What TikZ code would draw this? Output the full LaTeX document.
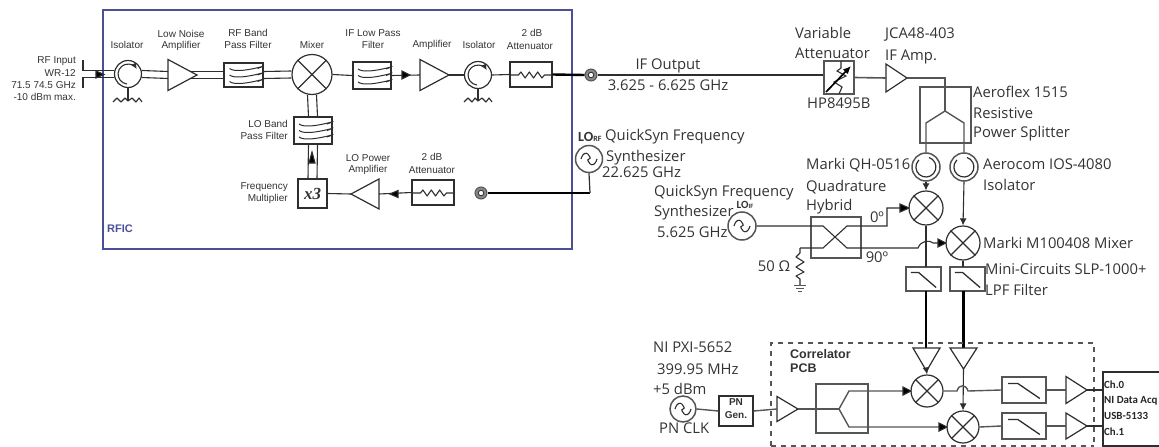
\documentclass[tikz,border=0pt]{standalone}
\usepackage{fontspec}
\setmainfont{Open Sans}
\newfontfamily\arialf{Liberation Sans}
\newfontfamily\carl{Carlito}
\newfontfamily\serif{Liberation Serif}
\usetikzlibrary{arrows.meta}
\definecolor{ln}{HTML}{2E2E2E}
\definecolor{gl}{HTML}{555555}
\definecolor{tx}{HTML}{333333}
\definecolor{rfic}{HTML}{4A4F98}
\tikzset{
  ln/.style={draw=ln,line width=1.1pt},
  gln/.style={draw=gl,line width=1.4pt},
  heavy/.style={draw=black,line width=2.4pt},
  arr/.style={ln,-{Latex[length=7pt,width=7pt]}},
  boxn/.style={draw=ln,line width=1.2pt,rectangle,inner sep=0pt},
  gboxn/.style={draw=gl,line width=1.6pt,rectangle,inner sep=0pt},
  circn/.style={draw=ln,line width=1.2pt,circle,inner sep=0pt},
  small/.style={font=\arialf\fontsize{10}{12}\selectfont,text=tx,inner sep=0pt},
  lab/.style={font=\fontsize{14.8}{16}\selectfont,text=tx,inner sep=0pt,anchor=west},
  bb/.style={font=\arialf\bfseries\fontsize{10}{12}\selectfont,text=tx,inner sep=0pt},
  cb/.style={font=\carl\bfseries\fontsize{10.9}{13}\selectfont,text=black!85,inner sep=0pt,anchor=west},
}
\newcommand\dgBox[6]{%
  \pgfmathsetmacro\dgcx{(#2+#4)/2}\pgfmathsetmacro\dgcy{(#3+#5)/2}%
  \pgfmathsetmacro\dgw{#4-#2}\pgfmathsetmacro\dgh{#5-#3}%
  \node[#6,minimum width=\dgw pt,minimum height=\dgh pt] (#1) at (\dgcx,\dgcy) {};}
\newcommand\dgMix[4]{\node[circn,minimum size=#4pt] (#1) at (#2,#3) {};
  \draw[ln] (#1.45)--(#1.225) (#1.135)--(#1.315);}
\newcommand\dgTriH[5]{\coordinate (#1-in) at (#2,#4); \coordinate (#1-out) at (#3,#4);
  \draw[ln,line width=1.2pt] (#2,#4-#5)--(#3,#4)--(#2,#4+#5)--cycle;}
\newcommand\dgTriV[5]{\coordinate (#1-in) at (#2,#3); \coordinate (#1-out) at (#2,#4);
  \draw[ln,line width=1.2pt] (#2-#5,#3)--(#2,#4)--(#2+#5,#3)--cycle;}
\newcommand\dgZig[3]{\draw[ln,line join=round] (#1,#2) -- ++(#3*.2,0) -- ++(#3*.06,-3) -- ++(#3*.1,6) -- ++(#3*.1,-6) -- ++(#3*.1,6) -- ++(#3*.1,-6) -- ++(#3*.1,6) -- ++(#3*.06,-3) -- ++(#3*.18,0);}
\newcommand\dgBpf[2]{%
  \foreach \dd in {-6.5,0,6.5}{\draw[ln,line width=1pt] ([shift={(-#2pt,\dd pt)}]#1.center) .. controls +(9pt,-7pt) and +(2*#2pt-9pt,7pt) .. +(2*#2 pt,0pt);}}
\newcommand\dgLpf[2]{%
  \draw[ln,line width=1.3pt] ([shift={(-0.36*#2pt,6.5pt)}]#1.center) -- ++(0.22*#2pt,0) -- ++(0.5*#2pt,-15pt);}
\newcommand\dgIsoA[4]{%
  \node[circn,minimum size=#4pt] (#1) at (#2,#3) {};
  \draw[ln,-{Latex[length=6pt,width=6pt]}] ([shift={(-1pt,-10pt)}]#1.center) arc[start angle=264,end angle=30,radius=10pt];}
\newcommand\dgIsoB[4]{%
  \node[circn,minimum size=#4pt,draw=gl,line width=1.5pt] (#1) at (#2,#3) {};
  \draw[ln,line width=1.2pt] ([shift={(3pt,9.5pt)}]#1.center) arc[start angle=72,end angle=-225,radius=10pt];}
\newcommand\dgCoax[3]{\node[circle,draw=gl,fill=gl!70,line width=1pt,minimum size=12pt,inner sep=0pt] (#1) at (#2,#3) {};
  \node[circle,draw=black!80,fill=white,line width=.9pt,minimum size=5.5pt,inner sep=0pt] at (#1.center) {};}
\newcommand\dgGen[4]{\node[circn,draw=gl,line width=1.5pt,minimum size=#4pt] (#1) at (#2,#3) {};
  \draw[ln] ([xshift=-8pt]#1.center) .. controls +(4pt,13pt) and +(4pt,0pt) .. (#1.center) .. controls +(-4pt,0pt) and +(-4pt,-13pt) .. ([xshift=8pt]#1.center);}
\begin{document}
\begin{tikzpicture}[x=1pt,y=-1pt]
\useasboundingbox (0,0) rectangle (1159,447);
\node[draw=rfic,line width=2.8pt,rectangle,inner sep=0,minimum width=469pt,minimum height=239pt] (rficbox) at (337.5,129.5) {};
\node[font=\arialf\bfseries\fontsize{11}{13}\selectfont,text=rfic,inner sep=0pt,anchor=west] (rficlab) at (107,229) {RFIC};
\dgIsoA{isoA}{128}{74}{27}
\dgTriH{lna}{168}{197}{75}{15.5}
\dgBox{rfbpf}{224}{63}{263}{87}{boxn}
\dgMix{mixA}{312}{74.5}{40}
\dgBox{iflpf}{353}{62}{391}{89}{boxn}
\dgTriH{ifamp}{420}{449}{75}{15.5}
\dgIsoA{isoB}{478}{75}{27}
\dgBox{attA}{510}{62}{552}{87}{boxn}
\dgCoax{coaxA}{591}{75}
\dgBox{lobpf}{294}{117}{332}{144}{boxn}
\dgBox{xthree}{298}{179}{327}{208}{boxn}
\dgTriH{loamp}{379}{351}{194}{15}
\dgBox{attB}{412}{180}{454}{205}{boxn}
\dgCoax{coaxB}{481}{193}
\node[inner sep=0pt,text=tx] (xlab) at (312.5,193.5) {\serif\bfseries\itshape\fontsize{17}{17}\selectfont x3};
\dgBpf{rfbpf}{14}\dgBpf{iflpf}{14}\dgBpf{lobpf}{14}
\dgZig{510}{75}{42}\dgZig{412}{193}{42}
\coordinate (inT) at (83,60); \coordinate (inB) at (83,88);
\draw[ln] (inT) |- ([yshift=3.5pt]isoA.west);
\draw[ln] (inB) |- ([yshift=-3.5pt]isoA.west);
\fill[ln] (104,74.5) -- (96,71) -- (96,78) -- cycle;
\draw[ln] ([yshift=3.5pt]isoA.east) -- ([yshift=3.5pt]lna-in);
\draw[ln] ([yshift=-3.5pt]isoA.east) -- ([yshift=-3.5pt]lna-in);
\draw[ln] ([shift={(-6.5pt,3.5pt)}]lna-out) -- ([yshift=3.5pt]rfbpf.west);
\draw[ln] ([shift={(-6.5pt,-3.5pt)}]lna-out) -- ([yshift=-3.5pt]rfbpf.west);
\draw[ln] ([yshift=3.5pt]rfbpf.east) -- ([yshift=3.5pt]mixA.west);
\draw[ln] ([yshift=-3.5pt]rfbpf.east) -- ([yshift=-3.5pt]mixA.west);
\draw[ln] (mixA.east) -- (iflpf.west);
\draw[ln] (iflpf.east) -- (ifamp-in);
\fill[ln] (410,75) -- (402,71) -- (402,79) -- cycle;
\draw[ln] (ifamp-out) -- (isoB.west);
\draw[ln] (isoB.east) -- (attA.west);
\draw[heavy] (attA.east) -- (coaxA.west);
\coordinate (rA) at (128,100); \coordinate (rB) at (478,100);
\draw[ln] (isoA.south) -- (rA); \draw[ln] (isoB.south) -- (rB);
\draw[ln,line join=round] (113,102) -- (117,98) -- (121,102) -- (125,98) -- (128,101) -- (132,98) -- (136,102) -- (139,98) -- (142,102);
\draw[ln,line join=round] (464,102) -- (468,98) -- (472,102) -- (475,98) -- (478,101) -- (482,98) -- (486,102) -- (489,98) -- (492,102);
\draw[ln] ([xshift=-4.5pt]mixA.south) -- ([xshift=-4.5pt]lobpf.north);
\draw[ln] ([xshift=4.5pt]mixA.south) -- ([xshift=4.5pt]lobpf.north);
\draw[ln] ([xshift=-4.5pt]lobpf.south) -- ([xshift=-4.5pt]xthree.north);
\draw[ln] ([xshift=4.5pt]lobpf.south) -- ([xshift=4.5pt]xthree.north);
\fill[ln] (312,152) -- (309,163) -- (315,163) -- cycle;
\draw[ln] (xthree.east) -- (loamp-out);
\draw[ln] (loamp-in) -- (attB.west);
\fill[ln] (390,194) -- (398,190.5) -- (398,197.5) -- cycle;
\draw[heavy] (coaxB.east) -- (590,193);
\dgGen{genrf}{589}{159}{27}
\coordinate (genrfc) at (590,193);
\draw[ln,line width=1.2pt] (genrf.south) -- (genrfc);
\dgBox{varatt}{824}{61}{854}{94}{gboxn}
\dgTriH{jca}{886}{907}{78}{14}
\draw[ln] (coaxA.east) -- (varatt.west |- coaxA.east);
\draw[gln,line width=1.6pt] (varatt.east) -- (jca-in);
\draw[ln] (841,61) -- (841,68) -- (837,71) -- (846,76) -- (834,82) -- (842,87) -- (839,94);
\draw[draw=black,line width=1.7pt,-{Latex[length=8pt,width=7pt]}] (826,92) -- (851,66);
\dgBox{split}{920}{87}{971}{143}{gboxn}
\coordinate (splitj) at (945,111); \coordinate (splita) at (926,123); \coordinate (splitb) at (964,123);
\dgIsoB{isoC}{926}{167}{28}
\dgIsoB{isoD}{964}{167}{28}
\draw[gln] (jca-out) -| (splitj);
\draw[gln] (isoC.north) -- (splita) -- (splitj) -- (splitb) -- (isoD.north);
\dgMix{mixC}{926}{208}{34}
\dgMix{mixD}{963}{243}{34}
\draw[arr] (isoC.south) -- (mixC.north);
\draw[arr] (isoD.south) -- (mixD.north);
\dgBox{hyb}{811}{217}{861}{258}{gboxn}
\dgGen{genif}{742}{226}{28}
\coordinate (hl) at (800,248); \coordinate (hi) at (823,248); \coordinate (hm) at (847,248);
\draw[ln] (genif.east) -- (823,226) -- (847,248) -- (918,248) .. controls (921,240) and (930,240) .. (933,243) -- (mixD.west);
\fill[ln] (946,243) -- (938,239) -- (938,247) -- cycle;
\draw[ln] (hl) -- (hi) -- (847,226) -- (887,226) -- (887,208) -- (mixC.west);
\fill[ln] (909,208) -- (900,204) -- (900,212) -- cycle;
\coordinate (gnd) at (800,285);
\draw[ln,line join=round] (hl) -- (800,253) -- (796,257) -- (804,262) -- (796,267) -- (804,272) -- (796,276) -- (800,279) -- (gnd);
\draw[gl,line width=1pt] (794,285) -- (806,285) (796,288) -- (804,288) (798,291) -- (802,291);
\dgBox{lpfA}{906}{267}{941}{291}{gboxn}
\dgBox{lpfB}{950}{267}{985}{291}{gboxn}
\dgLpf{lpfA}{35}\dgLpf{lpfB}{35}
\draw[ln] (mixC.south) -- (926,267);
\draw[ln] (mixD.south) -- (963,267);
\coordinate (bufAi) at (926,348); \coordinate (bufBi) at (963.5,348);
\draw[draw=black,line width=2.2pt] (926,291) -- (bufAi);
\draw[draw=black,line width=2.2pt] (963.5,291) -- (bufBi);
\draw[gl,line width=1.3pt,dash pattern=on 5pt off 5pt] (771,446) -- (771,343) -- (1094,343) -- (1094,446);
\draw[gl,line width=1.3pt,dash pattern=on 5pt off 5pt] (771,446) -- (1094,446);
\dgTriV{bufA}{926.5}{348}{371}{13.5}
\dgTriV{bufB}{963.5}{348}{369}{13.5}
\dgMix{mixE}{927}{391}{32}
\dgMix{mixF}{963}{427}{32}
\draw[arr] (bufA-out) -- (mixE.north);
\draw[arr] (bufB-out) -- (mixF.north);
\dgBox{lpfC}{1002}{377}{1046}{403}{gboxn}
\dgBox{lpfD}{1002}{413}{1046}{439}{gboxn}
\dgLpf{lpfC}{44}\dgLpf{lpfD}{44}
\dgTriH{outA}{1066}{1087}{390}{13.5}
\dgTriH{outB}{1066}{1087}{426}{13}
\draw[gln] (mixE.east) -- (957,391) .. controls (959,384) and (966,384) .. (968,391) -- (lpfC.west);
\draw[gln] (mixF.east) -- (lpfD.west);
\draw[gln] (lpfC.east) -- (outA-in);
\draw[gln] (lpfD.east) -- (outB-in);
\draw[ln] (1159,446) -- (1103,446) -- (1103,372) -- (1159,372);
\coordinate (daqA) at (1103,390); \coordinate (daqB) at (1103,426);
\draw[ln] (outA-out) -- (daqA); \draw[ln] (outB-out) -- (daqB);
\dgGen{genpn}{683}{409}{26}
\dgBox{pngen}{719}{396}{753}{426}{boxn}
\dgTriH{pnamp}{777}{798}{409}{12.5}
\dgBox{splitB}{816}{384}{868}{433}{gboxn}
\coordinate (sbj) at (839,409); \coordinate (sba) at (849,391); \coordinate (sbb) at (849,427);
\draw[gln] (genpn.east) -- (pngen.west);
\draw[gln] (pngen.east) -- (pnamp-in);
\draw[gln] (pnamp-out) -- (sbj);
\draw[gln] (sbj) -- (sba) -- (mixE.west);
\draw[gln] (sbj) -- (sbb) -- (mixF.west);
\fill[ln] (911,391) -- (903,387) -- (903,395) -- cycle;
\fill[ln] (947,427) -- (939,423) -- (939,431) -- cycle;
\node[small] (t01) at (127,45) {Isolator};
\node[small] (t02) at (181,34) {Low Noise};
\node[small] (t03) at (181,46) {Amplifier};
\node[small] (t04) at (248,33) {RF Band};
\node[small] (t05) at (248,45) {Pass Filter};
\node[small] (t06) at (312,45) {Mixer};
\node[small] (t07) at (373,33) {IF Low Pass};
\node[small] (t08) at (373,45) {Filter};
\node[small] (t09) at (432,45) {Amplifier};
\node[small] (t10) at (479,45) {Isolator};
\node[small] (t11) at (532,33) {2 dB};
\node[small] (t12) at (530,46) {Attenuator};
\node[small,anchor=east] (t13) at (288,124) {LO Band};
\node[small,anchor=east] (t14) at (288,136) {Pass Filter};
\node[small] (t15) at (368,158) {LO Power};
\node[small] (t16) at (368,170) {Amplifier};
\node[small] (t17) at (432,157) {2 dB};
\node[small] (t18) at (432,170) {Attenuator};
\node[small,anchor=east] (t19) at (288,187) {Frequency};
\node[small,anchor=east] (t20) at (288,199) {Multiplier};
\node[small,anchor=east] (t21) at (76,61) {RF Input};
\node[small,anchor=east] (t22) at (76,73) {WR-12};
\node[small,anchor=east] (t23) at (76,85) {71.5 74.5 GHz};
\node[small,anchor=east] (t24) at (76,97) {-10 dBm max.};
\node[lab,anchor=center] (u01) at (668,66) {IF Output};
\node[lab,anchor=center] (u02) at (668,85) {3.625 - 6.625 GHz};
\node[bb,anchor=west,font=\carl\bfseries\fontsize{14}{14}\selectfont] (u03) at (578,137) {LO\fontsize{8}{8}\selectfont RF};
\node[lab] (u04) at (605,137) {QuickSyn Frequency};
\node[lab] (u05) at (606,158) {Synthesizer};
\node[lab] (u06) at (602,172) {22.625 GHz};
\node[lab] (u07) at (795,33) {Variable};
\node[lab] (u08) at (795,53) {Attenuator};
\node[lab] (u09) at (807,103) {HP8495B};
\node[lab] (u10) at (885,35) {JCA48-403};
\node[lab] (u11) at (885,57) {IF Amp.};
\node[lab] (u12) at (973,92) {Aeroflex 1515};
\node[lab] (u13) at (973,113) {Resistive};
\node[lab] (u14) at (973,134) {Power Splitter};
\node[lab] (u15) at (806,165) {Marki QH-0516};
\node[lab] (u16) at (806,187) {Quadrature};
\node[lab] (u17) at (806,207) {Hybrid};
\node[lab] (u18) at (983,164) {Aerocom IOS-4080};
\node[lab] (u19) at (983,185) {Isolator};
\node[lab] (u20) at (983,243) {Marki M100408 Mixer};
\node[lab] (u21) at (985,269) {Mini-Circuits SLP-1000+};
\node[lab] (u22) at (985,290) {LPF Filter};
\node[lab,anchor=center] (u23) at (877,217) {0º};
\node[lab,anchor=center] (u24) at (877,257) {90º};
\node[lab,anchor=center] (u25) at (774,266) {50 Ω};
\node[lab] (u26) at (654,193) {QuickSyn Frequency};
\node[lab] (u27) at (654,213) {Synthesizer};
\node[lab] (u28) at (657,232) {5.625 GHz};
\node[bb,anchor=center,font=\carl\bfseries\fontsize{11}{11}\selectfont] (u29) at (745,205) {LO\fontsize{6.5}{6.5}\selectfont IF};
\node[lab] (u30) at (653,347) {NI PXI-5652};
\node[lab] (u31) at (657,369) {399.95 MHz};
\node[lab] (u32) at (653,389) {+5 dBm};
\node[lab] (u33) at (659,428) {PN CLK};
\node[bb] (u34) at (736,402) {PN};
\node[bb] (u35) at (736,415) {Gen.};
\node[bb,anchor=west,font=\arialf\bfseries\fontsize{12.5}{14}\selectfont] (u36) at (790,354) {Correlator};
\node[bb,anchor=west,font=\arialf\bfseries\fontsize{12.5}{14}\selectfont] (u37) at (790,368) {PCB};
\node[cb] (v1) at (1104,385) {Ch.0};
\node[cb] (v2) at (1104,401) {NI Data Acq};
\node[cb] (v3) at (1104,416) {USB-5133};
\node[cb] (v4) at (1104,432) {Ch.1};
\end{tikzpicture}
\end{document}
